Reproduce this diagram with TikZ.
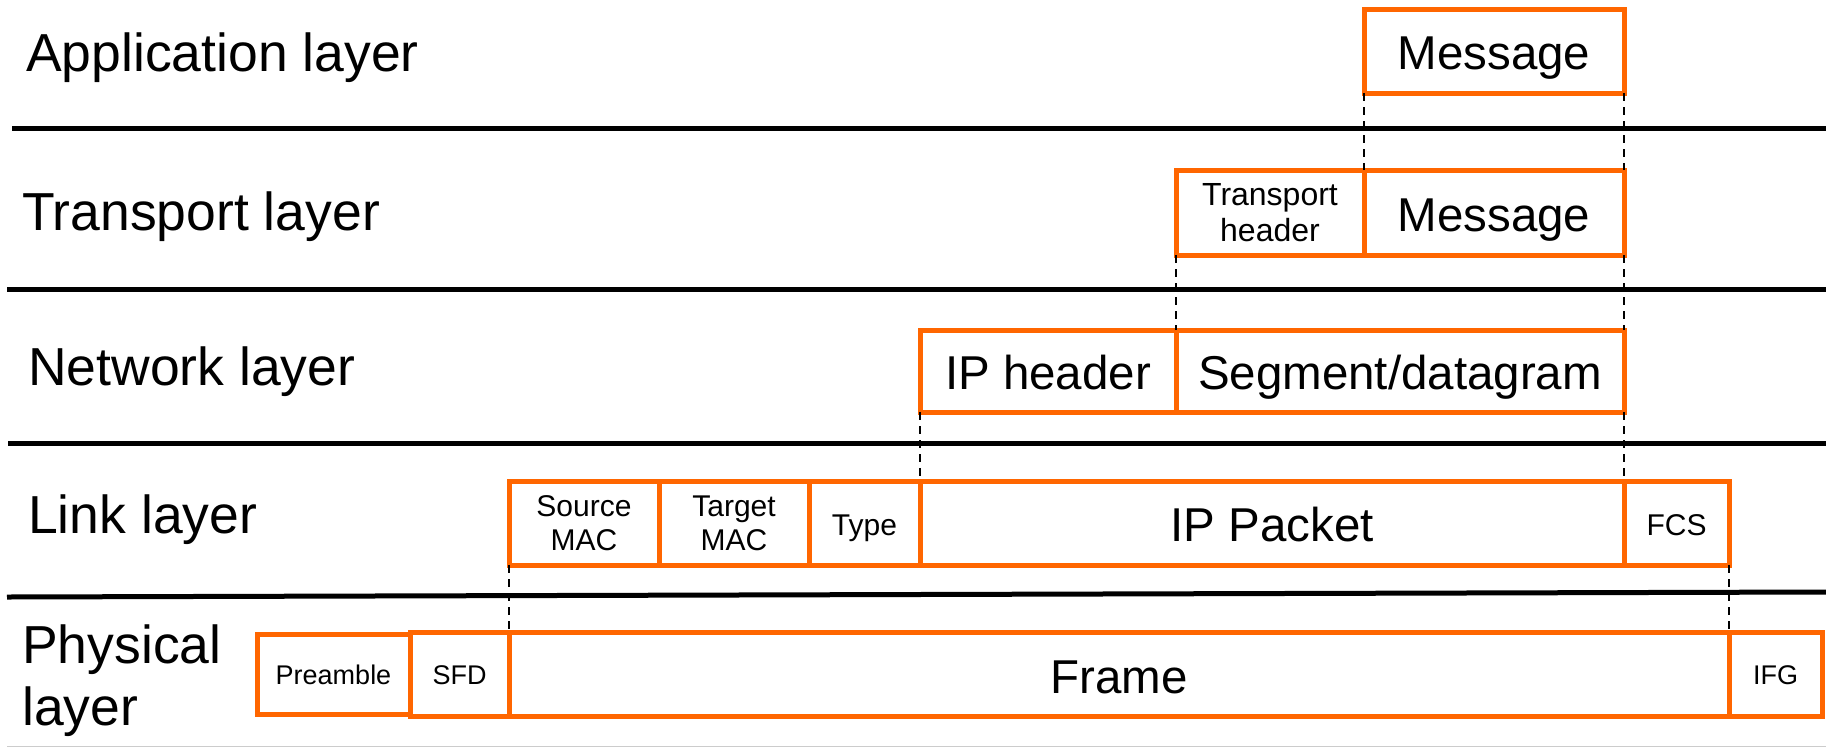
\documentclass[tikz,border=0pt]{standalone}
\usepackage{fontspec}
\setmainfont{Liberation Sans}
\definecolor{pdu}{RGB}{255,102,0}
\begin{document}
\begin{tikzpicture}[x=1pt,y=-1pt,
  field/.style={draw=pdu, line width=5pt, inner sep=0pt, outer sep=0pt, align=center},
  big/.style={text height=37.5pt, text depth=0pt, font=\fontsize{47.5}{56}\selectfont},
  mid/.style={font=\fontsize{32}{36}\selectfont},
  small/.style={font=\fontsize{30}{34}\selectfont},
  smallone/.style={text height=24.8pt, text depth=0pt, font=\fontsize{30}{34}\selectfont},
  tiny/.style={text height=19.4pt, text depth=0pt, font=\fontsize{27}{32}\selectfont},
  layername/.style={inner sep=0pt, font=\fontsize{53.5}{62}\selectfont, align=left},
  divider/.style={line width=5pt, black},
  guide/.style={line width=2pt, black, dash pattern=on 8pt off 6pt}]
\useasboundingbox (0,0) rectangle (1826,748);

% layer separators
\draw[divider] (12,128) -- (1826,128);
\draw[divider] (7,289) -- (1826,289);
\draw[divider] (8,443) -- (1826,443);
\draw[divider] (7,597) -- (1826,592);
\draw[line width=1.5pt, black!20] (7,746.5) -- (1826,746.5);

% layer names
\node[layername, anchor=base west] (lapp)  at (26,71)  {Application layer};
\node[layername, anchor=base west] (ltrn)  at (22,230) {Transport layer};
\node[layername, anchor=base west] (lnet)  at (28,385) {Network layer};
\node[layername, anchor=base west] (llink) at (28,533) {Link layer};
\node[layername, anchor=west]      (lphy)  at (22,681) {Physical\\layer};

% application layer
\node[field, big, minimum width=260pt, minimum height=84pt] (appmsg) at (1494,51) {Message};

% transport layer
\node[field, mid, minimum width=188pt, minimum height=85pt] (thdr) at (1270,212.5) {Transport\\header};
\node[field, big, minimum width=260pt, minimum height=85pt] (tmsg) at (1494,212.5) {Message};

% network layer
\node[field, big, minimum width=256pt, minimum height=82pt] (iphdr) at (1048,371) {IP header};
\node[field, big, minimum width=448pt, minimum height=82pt] (segd)  at (1400,371) {Segment/datagram};

% link layer
\node[field, small,    minimum width=150pt, minimum height=84pt] (srcmac) at (584,523)    {Source\\MAC};
\node[field, small,    minimum width=150pt, minimum height=84pt] (tgtmac) at (734,523)    {Target\\MAC};
\node[field, smallone, minimum width=111pt, minimum height=84pt] (ftype)  at (864.5,523)  {Type};
\node[field, big,      minimum width=704pt, minimum height=84pt] (ippkt)  at (1272,523)   {IP Packet};
\node[field, smallone, minimum width=105pt, minimum height=84pt] (fcs)    at (1676.5,523) {FCS};

% physical layer
\node[field, tiny, minimum width=153pt,  minimum height=80pt] (pre)   at (333.5,674.5)  {Preamble};
\node[field, tiny, minimum width=99pt,   minimum height=84pt] (sfd)   at (459.5,674.5)  {SFD};
\node[field, big,  minimum width=1220pt, minimum height=84pt] (frame) at (1119,674.5)   {Frame};
\node[field, tiny, minimum width=93pt,   minimum height=84pt] (ifg)   at (1775.5,674.5) {IFG};

% encapsulation guides
\draw[guide] (appmsg.south west) -- (tmsg.north west);
\draw[guide] (appmsg.south east) -- (tmsg.north east);
\draw[guide] (thdr.south west) -- (segd.north west);
\draw[guide] (tmsg.south east) -- (segd.north east);
\draw[guide] (iphdr.south west) -- (ippkt.north west);
\draw[guide] (segd.south east) -- (ippkt.north east);
\draw[guide] (srcmac.south west) -- (frame.north west);
\draw[guide] (fcs.south east) -- (frame.north east);
\end{tikzpicture}
\end{document}
